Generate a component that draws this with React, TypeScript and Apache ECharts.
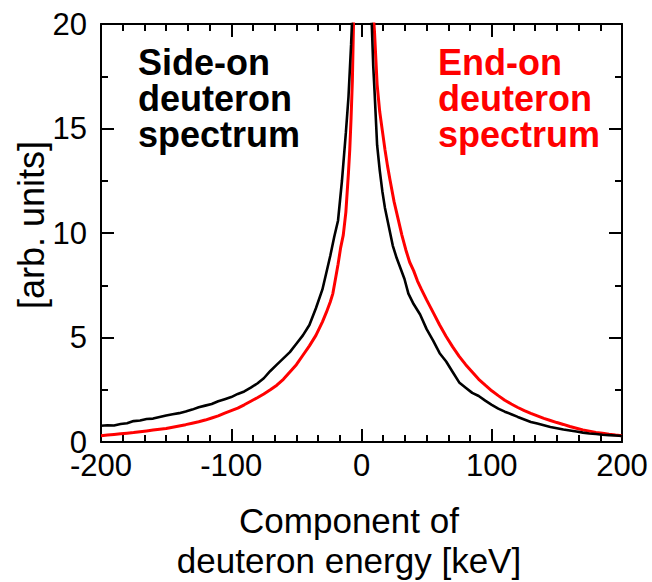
import React, { useEffect, useRef } from "react";
import * as echarts from "echarts";

const xTickLabels = ["-200", "-100", "0", "100", "200"];
const yTickLabels = ["0", "5", "10", "15", "20"];

const sideOnX = [
  -200, -195, -190, -185, -180, -175, -170, -165, -160, -155, -150, -145, -140, -135, -130, -125, -120, -115, -110, -105,
  -100, -95, -90, -85, -80, -75, -70, -65, -60, -55, -50, -45, -40, -35, -30, -27, -24, -21, -18, -15, -12, -10, -8, -6,
  -4, -2, 0, 2, 4, 6, 8, 9, 10, 12, 14, 16, 18, 21, 24, 27, 30, 33, 36, 40, 45, 50, 55, 60, 65, 70, 75, 80, 85, 90, 95,
  100, 105, 110, 115, 120, 125, 130, 135, 140, 145, 150, 155, 160, 165, 170, 175, 180, 185, 190, 195, 200,
];
const sideOnY = [
  0.78, 0.8, 0.79, 0.86, 0.9, 1.0, 1.03, 1.1, 1.12, 1.2, 1.27, 1.33, 1.38, 1.46, 1.55, 1.66, 1.74, 1.82, 1.95, 2.05,
  2.15, 2.3, 2.42, 2.6, 2.8, 3.05, 3.4, 3.7, 4.0, 4.3, 4.7, 5.1, 5.6, 6.4, 7.3, 8.1, 8.9, 9.8, 10.6, 12.5, 14.8, 16.5, 19.0, 22.0,
  26.0, 30.0, 32.0, 29.0, 26.0, 23.0, 19.8, 18.0, 16.8, 14.2, 13.0, 12.0, 11.2, 10.3, 9.4, 8.8, 8.3, 7.8, 7.1, 6.6, 6.1, 5.4, 4.85, 4.25, 3.85, 3.35, 2.85, 2.6, 2.35, 2.2, 1.98,
  1.78, 1.6, 1.45, 1.33, 1.2, 1.08, 0.96, 0.88, 0.8, 0.72, 0.66, 0.6, 0.55, 0.5, 0.45, 0.41, 0.38, 0.35, 0.33, 0.31, 0.29,
];

const endOnX = [
  -200, -195, -190, -185, -180, -175, -170, -165, -160, -155, -150, -145, -140, -135, -130, -125, -120, -115, -110, -105,
  -100, -95, -90, -85, -80, -75, -70, -65, -60, -55, -50, -45, -40, -35, -30, -27, -24, -22, -20, -18, -16, -14, -12, -10,
  -9, -8, -7, -6, -5, -3, 0, 2, 4, 6, 8, 10, 12, 14, 16, 18, 20, 22, 25, 28, 31, 34, 37, 40, 43, 46, 50, 55, 60, 65, 70,
  75, 80, 85, 90, 95, 100, 105, 110, 115, 120, 125, 130, 135, 140, 145, 150, 155, 160, 165, 170, 175, 180, 185, 190, 195, 200,
];
const endOnY = [
  0.3, 0.33, 0.36, 0.39, 0.42, 0.45, 0.49, 0.53, 0.57, 0.61, 0.65, 0.71, 0.77, 0.83, 0.9, 0.97, 1.05, 1.15, 1.25, 1.38,
  1.5, 1.62, 1.78, 1.95, 2.12, 2.3, 2.5, 2.72, 3.0, 3.35, 3.7, 4.15, 4.6, 5.1, 5.75, 6.2, 6.7, 7.1, 7.8, 8.5, 9.3, 9.9, 11.0, 12.9,
  14.0, 15.5, 17.3, 20.4, 23.0, 27.0, 32.0, 30.0, 27.0, 24.0, 21.5, 19.6, 17.1, 15.8, 14.9, 14.0, 13.2, 12.5, 11.5, 10.7, 9.9, 9.2, 8.6, 8.2, 7.7, 7.3, 6.8, 6.2, 5.6, 5.05, 4.55,
  4.1, 3.7, 3.35, 3.0, 2.72, 2.45, 2.22, 2.0, 1.82, 1.65, 1.5, 1.37, 1.25, 1.13, 1.03, 0.93, 0.84, 0.74, 0.66, 0.58, 0.52, 0.46, 0.42, 0.37, 0.33, 0.3,
];

const sideOnLabel = "Side-on\ndeuteron\nspectrum";
const endOnLabel = "End-on\ndeuteron\nspectrum";
const xAxisTitle = "Component of\ndeuteron energy [keV]";
const yAxisTitle = "[arb. units]";

const FONT = "'Liberation Sans', Arial, Helvetica, sans-serif";

export default function App() {
  const ref = useRef<HTMLDivElement>(null);
  useEffect(() => {
    if (!ref.current) return;
    const chart = echarts.init(ref.current, null, { renderer: "svg" });
    const axisLine = { show: true, onZero: false, lineStyle: { color: "#000", width: 2 } };
    const xCommon = {
      type: "value" as const,
      min: -200,
      max: 200,
      interval: 100,
      axisLine,
      splitLine: { show: false },
      axisTick: { show: true, inside: true, length: 13, lineStyle: { color: "#000", width: 2 } },
      minorTick: { show: true, splitNumber: 6, length: 7, lineStyle: { color: "#000", width: 2 } },
    };
    const yCommon = {
      type: "value" as const,
      min: 0,
      max: 20,
      interval: 5,
      axisLine,
      splitLine: { show: false },
      axisTick: { show: true, inside: true, length: 13, lineStyle: { color: "#000", width: 2 } },
      minorTick: { show: true, splitNumber: 2, length: 7, lineStyle: { color: "#000", width: 2 } },
    };
    chart.setOption({
      animation: false,
      backgroundColor: "#fff",
      grid: { left: 101, top: 24, width: 521, height: 418, containLabel: false },
      xAxis: [
        {
          ...xCommon,
          position: "bottom",
          axisLabel: {
            show: true,
            margin: 12,
            color: "#000",
            fontFamily: FONT,
            fontSize: 31,
            lineHeight: 22,
            formatter: (v: number) => xTickLabels[Math.round((v + 200) / 100)] ?? "",
          },
        },
        { ...xCommon, position: "top", axisLabel: { show: false } },
      ],
      yAxis: [
        {
          ...yCommon,
          position: "left",
          axisLabel: {
            show: true,
            margin: 14,
            color: "#000",
            fontFamily: FONT,
            fontSize: 31,
            lineHeight: 22,
            formatter: (v: number) => yTickLabels[Math.round(v / 5)] ?? "",
          },
        },
        { ...yCommon, position: "right", axisLabel: { show: false } },
      ],
      series: [
        {
          name: "Side-on",
          type: "line",
          xAxisIndex: 0,
          yAxisIndex: 0,
          showSymbol: false,
          clip: true,
          data: sideOnX.map((x, i) => [x, sideOnY[i]]),
          lineStyle: { color: "#000", width: 2.6 },
          z: 3,
        },
        {
          name: "End-on",
          type: "line",
          xAxisIndex: 0,
          yAxisIndex: 0,
          showSymbol: false,
          clip: true,
          data: endOnX.map((x, i) => [x, endOnY[i]]),
          lineStyle: { color: "#ff0000", width: 3 },
          z: 2,
        },
      ],
      graphic: [
        {
          type: "text",
          left: 138,
          top: 44,
          style: { text: sideOnLabel, fill: "#000", font: `bold 36px ${FONT}`, lineHeight: 36 },
        },
        {
          type: "text",
          left: 438,
          top: 44,
          style: { text: endOnLabel, fill: "#ff0000", font: `bold 36px ${FONT}`, lineHeight: 36 },
        },
        {
          type: "text",
          x: 349,
          y: 500,
          style: {
            text: xAxisTitle,
            fill: "#000",
            font: `35px ${FONT}`,
            lineHeight: 40,
            align: "center",
            verticalAlign: "top",
          },
        },
        {
          type: "text",
          x: 31,
          y: 225,
          rotation: Math.PI / 2,
          style: {
            text: yAxisTitle,
            fill: "#000",
            font: `36px ${FONT}`,
            align: "center",
            verticalAlign: "middle",
          },
        },
      ],
    });
    return () => chart.dispose();
  }, []);
  return <div ref={ref} style={{ width: 652, height: 582, position: "absolute", left: 0, top: 0 }} />;
}
